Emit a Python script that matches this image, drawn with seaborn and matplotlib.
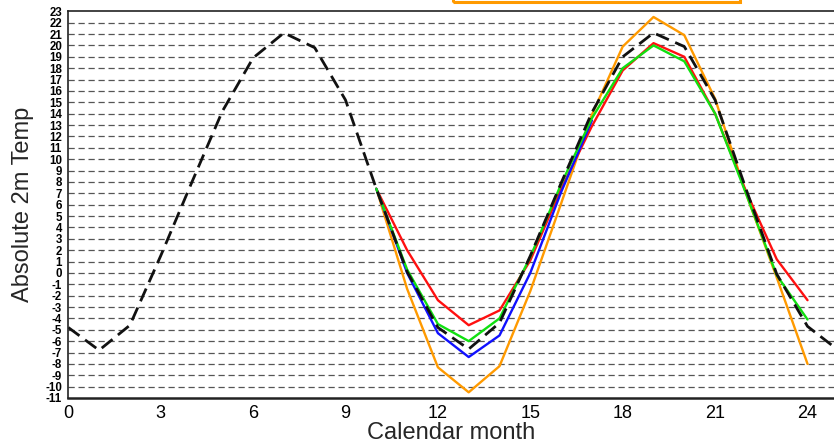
import matplotlib
matplotlib.use("Agg")
import matplotlib.pyplot as plt
import matplotlib.patches as mpatches
import seaborn as sns
import pandas as pd
import numpy as np

# ---- data ----
clim_months = list(range(26))
clim_temp = [-4.8, -6.8, -4.6, 1.5, 7.9, 14.2, 18.9, 21.1, 19.8, 15.2, 7.4, 0.1,
             -4.8, -6.7, -4.4, 1.5, 7.9, 14.1, 19.0, 21.1, 19.9, 15.2, 7.4, -0.1,
             -4.7, -6.8]

fc_months = [10, 11, 12, 13, 14, 15, 16, 17, 18, 19, 20, 21, 22, 23, 24]
red_temp = [7.4, 2.0, -2.4, -4.6, -3.3, 1.1, 7.4, 12.9, 17.8, 20.2, 19.0, 14.0, 7.2, 1.2, -2.4]
green_temp = [7.4, 0.3, -4.5, -6.0, -4.0, 1.4, 7.8, 13.6, 18.0, 20.0, 18.6, 14.0, 7.0, -0.2, -4.1]
orange_temp = [7.4, -1.4, -8.3, -10.5, -8.2, -1.6, 6.1, 13.9, 19.9, 22.5, 20.9, 15.3, 7.0, -0.4, -8.0]
blue_months = [10, 11, 12, 13, 14, 15, 16, 17]
blue_temp = [7.4, 0.0, -5.3, -7.4, -5.5, 0.0, 7.1, 13.4]

x_ticks = [0, 3, 6, 9, 12, 15, 18, 21, 24]
y_ticks = list(range(-11, 24))

sns.set_style("white")
plt.rcParams["font.family"] = ["Liberation Sans", "DejaVu Sans"]

fig = plt.figure(figsize=(8.34, 4.48), dpi=100)
ax = fig.add_axes([68.3 / 834, 1 - 398 / 448, 1 - 68.3 / 834, (398 - 11.3) / 448])

series = [
    (fc_months, orange_temp, "#ff9a00"),
    (fc_months, red_temp, "#ff1010"),
    (blue_months, blue_temp, "#1010ff"),
    (fc_months, green_temp, "#10e010"),
]
for xs, ys, col in series:
    df = pd.DataFrame({"month": xs, "temp": ys})
    sns.lineplot(data=df, x="month", y="temp", ax=ax, color=col, linewidth=1.7,
                 sort=False, estimator=None)

dfc = pd.DataFrame({"month": clim_months, "temp": clim_temp})
sns.lineplot(data=dfc, x="month", y="temp", ax=ax, color="#111111", linewidth=2.0,
             sort=False, estimator=None)
ax.lines[-1].set_dashes([5, 2.5])

ax.set_xlim(0, 24.86)
ax.set_ylim(-11, 23)

ax.set_yticks(y_ticks)
ax.set_yticklabels([str(v) for v in y_ticks])
ax.set_yticks(np.arange(-11, 23.01, 0.5), minor=True)
ax.set_xticks(x_ticks)
ax.set_xticks(range(0, 25), minor=True)

tick_font = ["Liberation Sans Narrow", "Liberation Sans", "DejaVu Sans"]
for lab in ax.get_yticklabels():
    lab.set_family(tick_font)
    lab.set_fontsize(8.3)
    lab.set_fontweight("bold")
for lab in ax.get_xticklabels():
    lab.set_family(tick_font)
    lab.set_fontsize(13)

ax.tick_params(axis="y", which="major", direction="inout", length=7, width=1,
               pad=1, colors="#222222")
ax.tick_params(axis="y", which="minor", direction="in", length=3, width=0.8,
               colors="#444444")
ax.tick_params(axis="x", which="major", direction="inout", length=6, width=1,
               pad=2, colors="#222222")
ax.tick_params(axis="x", which="minor", direction="in", length=3, width=0.8,
               colors="#444444")
ax.tick_params(labelcolor="black")

ax.grid(False)
for v in y_ticks:
    if -11 < v < 23:
        ax.axhline(v, color="#555555", linewidth=0.9, linestyle=(0, (5, 3)),
                   zorder=0.5)

for side in ["left", "bottom", "top"]:
    ax.spines[side].set_visible(True)
    ax.spines[side].set_color("#222222")
ax.spines["left"].set_linewidth(1.2)
ax.spines["bottom"].set_linewidth(1.8)
ax.spines["top"].set_linewidth(1.2)
ax.spines["right"].set_visible(False)

ax.set_xlabel("Calendar month", fontsize=17, labelpad=0)
ax.set_ylabel("Absolute 2m Temp", fontsize=17, labelpad=8)

# partially visible orange-framed box at the top edge
rect = mpatches.Rectangle((453 / 834, 1 - 2.5 / 448), (740 - 453) / 834, 0.2,
                          transform=fig.transFigure, fill=False,
                          edgecolor="#ff9a00", linewidth=2.2, clip_on=False)
fig.patches.append(rect)

fig.savefig("out.png", dpi=100)
